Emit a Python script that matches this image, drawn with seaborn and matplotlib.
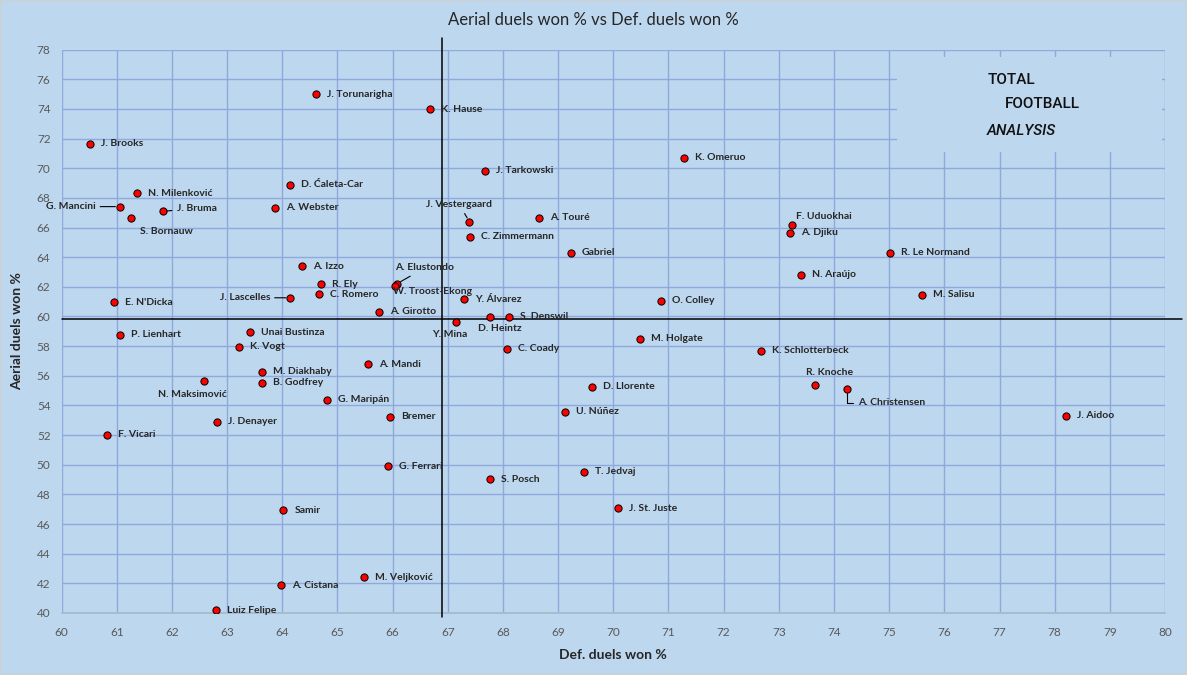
import matplotlib
matplotlib.use("Agg")
import matplotlib.pyplot as plt
import matplotlib.patches as mpatches
import seaborn as sns
import pandas as pd

# player names, def. duels won %, aerial duels won %
players = [
    "J. Brooks", "N. Milenković", "G. Mancini", "J. Bruma", "S. Bornauw",
    "D. Ćaleta-Car", "A. Webster", "A. Izzo", "R. Ely", "C. Romero",
    "J. Lascelles", "E. N'Dicka", "A. Girotto", "P. Lienhart", "Unai Bustinza",
    "K. Vogt", "M. Diakhaby", "B. Godfrey", "N. Maksimović", "G. Maripán",
    "J. Denayer", "F. Vicari", "Samir", "A. Cistana", "Luiz Felipe",
    "M. Veljković", "A. Mandi", "J. Torunarigha", "K. Hause", "J. Tarkowski",
    "J. Vestergaard", "A. Touré", "C. Zimmermann", "Gabriel", "A. Elustondo",
    "W. Troost-Ekong", "Y. Álvarez", "D. Heintz", "S. Denswil", "Y. Mina",
    "C. Coady", "Bremer", "G. Ferrari", "S. Posch", "U. Núñez",
    "K. Omeruo", "O. Colley", "M. Holgate", "D. Llorente", "T. Jedvaj",
    "J. St. Juste", "F. Uduokhai", "A. Djiku", "R. Le Normand", "N. Araújo",
    "M. Salisu", "K. Schlotterbeck", "R. Knoche", "A. Christensen", "J. Aidoo",
]
def_duels = [
    60.52, 61.36, 61.05, 61.83, 61.26,
    64.14, 63.86, 64.35, 64.71, 64.67,
    64.14, 60.95, 65.76, 61.05, 63.42,
    63.22, 63.64, 63.64, 62.58, 64.81,
    62.81, 60.83, 64.02, 63.98, 62.79,
    65.49, 65.56, 64.62, 66.67, 67.67,
    67.39, 68.66, 67.41, 69.23, 66.08,
    66.05, 67.30, 67.77, 68.11, 67.14,
    68.07, 65.96, 65.91, 67.76, 69.13,
    71.29, 70.86, 70.48, 69.62, 69.46,
    70.09, 73.23, 73.21, 75.01, 73.40,
    75.59, 72.67, 73.65, 74.23, 78.20,
]
aerial_duels = [
    71.64, 68.31, 67.41, 67.09, 66.67,
    68.90, 67.34, 63.38, 62.16, 61.49,
    61.26, 60.95, 60.32, 58.78, 58.92,
    57.95, 56.26, 55.52, 55.66, 54.37,
    52.91, 52.01, 46.94, 41.87, 40.18,
    42.41, 56.76, 74.98, 73.97, 69.84,
    66.40, 66.67, 65.39, 64.30, 62.21,
    62.03, 61.15, 59.98, 59.98, 59.64,
    57.82, 53.22, 49.91, 49.03, 53.56,
    70.72, 61.06, 58.49, 55.25, 49.51,
    47.07, 66.20, 65.66, 64.30, 62.82,
    61.47, 57.68, 55.39, 55.14, 53.29,
]
avg_def = 66.9
avg_aerial = 59.8

x_ticks = list(range(60, 81))
y_ticks = list(range(40, 79, 2))

df = pd.DataFrame({"player": players, "def": def_duels, "aerial": aerial_duels})

BG = "#BDD7EE"
GRID = "#8EA9DB"

sns.set_theme(style="whitegrid")
plt.rcParams["font.family"] = ["Lato", "DejaVu Sans"]

fig = plt.figure(figsize=(11.87, 6.75), dpi=100, facecolor=BG)
ax = fig.add_axes([0.0519, 0.0919, 0.9296, 0.8346])
ax.set_facecolor(BG)

sns.scatterplot(data=df, x="def", y="aerial", ax=ax, color="#FF0000",
                edgecolor="black", linewidth=0.7, s=27, zorder=4, legend=False)

ax.set_xlim(60, 80)
ax.set_ylim(40, 78)
ax.set_xticks(x_ticks)
ax.set_yticks(y_ticks)
ax.set_axisbelow(True)
ax.grid(True, color=GRID, linewidth=1)
for side in ["top", "right", "left"]:
    ax.spines[side].set_visible(False)
ax.spines["bottom"].set_color("#A6B8CC")
ax.tick_params(axis="both", length=0, labelsize=8.5, labelcolor="#595959")
ax.tick_params(axis="x", pad=10)
ax.tick_params(axis="y", pad=8)

ax.set_xlabel("Def. duels won %", fontsize=10, fontweight="bold", color="#262626", labelpad=8)
ax.set_ylabel("Aerial duels won %", fontsize=10, fontweight="bold", color="#262626", labelpad=10)

# average lines
ax.axvline(avg_def, ymin=-0.007, ymax=1.02, color="black", lw=1.1, clip_on=False, zorder=3)
ax.axhline(avg_aerial, xmin=0, xmax=1.015, color="black", lw=1.1, clip_on=False, zorder=3)

# label placement: offset in pixels, alignment, leader line
special = {
    "G. Mancini": ((-24, 0), "right", "center", "line"),
    "J. Bruma": ((14, 3), "left", "center", "line"),
    "S. Bornauw": ((35, -14), "center", "center", None),
    "J. Lascelles": ((-20, 0), "right", "center", "line"),
    "N. Maksimović": ((-12, -14), "center", "center", None),
    "J. Vestergaard": ((-10, 17), "center", "center", "line"),
    "A. Elustondo": ((28, 16), "center", "center", "line"),
    "W. Troost-Ekong": ((-2, -5), "left", "center", None),
    "D. Heintz": ((10, -12), "center", "center", None),
    "Y. Mina": ((-6, -13), "center", "center", None),
    "R. Knoche": ((15, 12), "center", "center", None),
    "A. Christensen": ((11, -14), "left", "center", "elbow"),
    "F. Uduokhai": ((4, 8), "left", "center", None),
}

for name, xv, yv in zip(players, def_duels, aerial_duels):
    offset, ha, va, leader = special.get(name, ((11, 0), "left", "center", None))
    arrow = None
    if leader == "line":
        arrow = dict(arrowstyle="-", color="black", lw=0.8, shrinkA=1, shrinkB=3)
    elif leader == "elbow":
        arrow = dict(arrowstyle="-", color="black", lw=0.8, shrinkA=1, shrinkB=3,
                     connectionstyle="angle,angleA=0,angleB=90,rad=0")
    ax.annotate(name, (xv, yv), xytext=offset, textcoords="offset pixels",
                ha=ha, va=va, fontsize=7.5, fontweight="bold", color="#262626",
                arrowprops=arrow, zorder=5)

# logo box
ax.add_patch(mpatches.Rectangle((0.757, 0.818), 0.24, 0.169, transform=ax.transAxes,
                                facecolor=BG, edgecolor="none", zorder=1))
logo_kw = dict(transform=ax.transAxes, fontsize=11, color="#111111", zorder=2,
               family=["Roboto", "DejaVu Sans"], fontweight="medium")
ax.text(0.839, 0.946, "TOTAL", ha="left", va="center", **logo_kw)
ax.text(0.855, 0.903, "FOOTBALL", ha="left", va="center", **logo_kw)
ax.text(0.838, 0.856, "ANALYSIS", ha="left", va="center", style="italic", **logo_kw)

fig.text(0.5, 1 - 20 / 675, "Aerial duels won % vs Def. duels won %", ha="center", va="center",
         fontsize=12, color="#262626")

fig.patches.append(mpatches.Rectangle((0, 0), 1, 1, transform=fig.transFigure,
                                      fill=False, edgecolor="#D0D0D0", lw=1.5))

fig.savefig("out.png", dpi=100, facecolor=BG)
